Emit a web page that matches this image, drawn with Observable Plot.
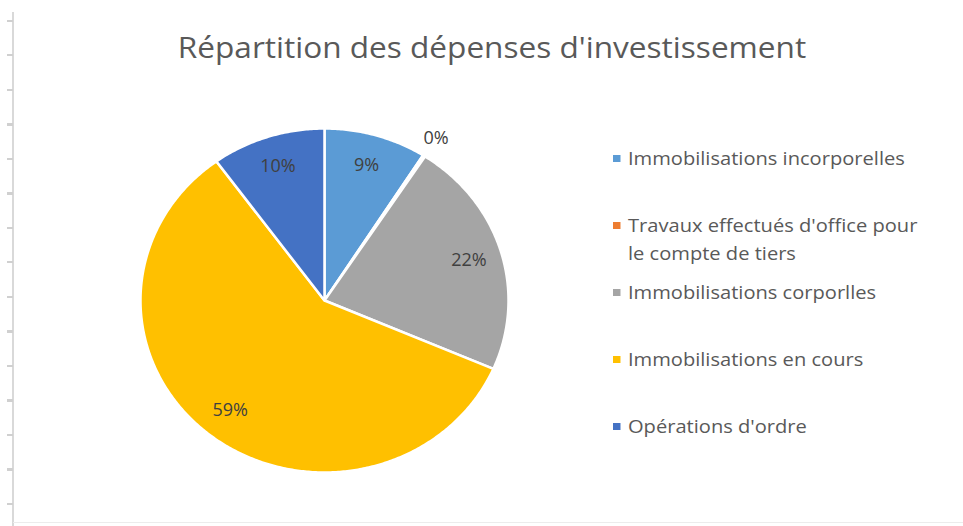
<!DOCTYPE html>
<html><head><meta charset="utf-8">
<script src="https://cdn.jsdelivr.net/npm/d3@7"></script>
<script src="https://cdn.jsdelivr.net/npm/@observablehq/plot@0.6"></script>
<style>
body{margin:0;background:#fff;}
#wrap{position:relative;width:963px;height:526px;overflow:hidden;font-family:"Open Sans",sans-serif;background:#fff;}
#chart{position:absolute;left:0;top:0;}
#title{position:absolute;left:492px;top:27px;transform:translateX(-50%) scaleX(1.07);font-size:29.5px;color:#595959;line-height:40px;white-space:nowrap;}
#legend{position:absolute;left:613px;top:144px;width:290px;color:#595959;font-size:18.8px;line-height:28px;transform:scaleX(1.07);transform-origin:0 0;}
.item{position:relative;padding-left:14px;height:67px;}
.sw{position:absolute;left:0;top:11px;width:7px;height:7px;}
#axisline{position:absolute;left:12px;top:12px;width:2px;height:514px;background:#d9d9d9;}
#ticks{position:absolute;left:7px;top:20px;width:6px;height:500px;background:repeating-linear-gradient(to bottom,#d0d0d0 0,#d0d0d0 2px,transparent 2px,transparent 34.5px);}
#bottom{position:absolute;left:13px;top:522px;width:950px;height:1px;background:#ececec;}
</style></head><body>
<div id="wrap">
<div id="axisline"></div><div id="ticks"></div><div id="bottom"></div>
<div id="chart"></div>
<div id="title"></div>
<div id="legend"></div>
</div>
<script>
const categories = ["Immobilisations incorporelles","Travaux effectués d'office pour le compte de tiers","Immobilisations corporlles","Immobilisations en cours","Opérations d'ordre"];
const values = [9.0, 0.2, 22.3, 58.5, 10.0];
const labels = ["9%","0%","22%","59%","10%"];
const colors = ["#5B9BD5","#ED7D31","#A5A5A5","#FFC000","#4472C4"];
const titleText = "Répartition des dépenses d'investissement";

const total = d3.sum(values);
const pts = [];
const lbls = [];
let acc = 0;
categories.forEach((c, i) => {
  const a0 = acc / total * 2 * Math.PI;
  acc += values[i];
  const a1 = acc / total * 2 * Math.PI;
  pts.push({cat: c, x: 0, y: 0});
  const n = Math.max(2, Math.ceil((a1 - a0) / 0.01));
  for (let k = 0; k <= n; k++) {
    const a = a0 + (a1 - a0) * k / n;
    pts.push({cat: c, x: Math.sin(a), y: Math.cos(a)});
  }
  const am = (a0 + a1) / 2;
  const r = values[i] < 1 ? 1.12 : 0.82;
  lbls.push({x: r * Math.sin(am), y: r * Math.cos(am), text: labels[i]});
});

const cx = 324, cy = 300, rx = 184, ry = 172;
const plot = Plot.plot({
  width: 963, height: 526, margin: 0,
  style: {background: "transparent", overflow: "visible"},
  x: {domain: [-1, 1], range: [cx - rx, cx + rx], axis: null},
  y: {domain: [-1, 1], range: [cy + ry, cy - ry], axis: null},
  color: {domain: categories, range: colors},
  marks: [
    Plot.line(pts, {x: "x", y: "y", z: "cat", fill: "cat", stroke: "white", strokeWidth: 2.5, curve: "linear-closed"}),
    Plot.text(lbls, {x: "x", y: "y", text: "text", fill: "#404040", fontSize: 18, fontFamily: "Open Sans, sans-serif"})
  ]
});
document.getElementById("chart").appendChild(plot);
document.getElementById("title").textContent = titleText;
const leg = document.getElementById("legend");
categories.forEach((c, i) => {
  const d = document.createElement("div");
  d.className = "item";
  const s = document.createElement("span");
  s.className = "sw"; s.style.background = colors[i];
  d.appendChild(s);
  d.appendChild(document.createTextNode(c));
  leg.appendChild(d);
});
</script>
</body></html>
